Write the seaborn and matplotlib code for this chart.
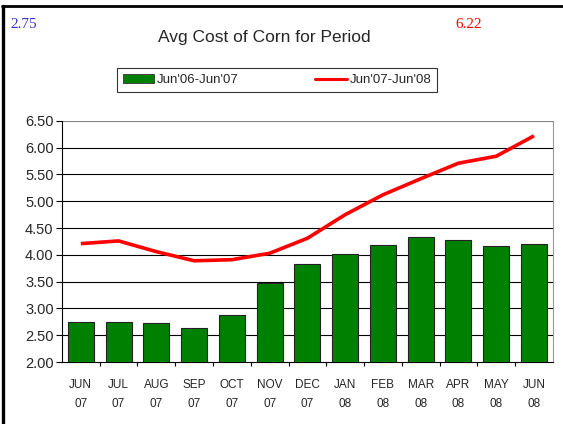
import numpy as np
import pandas as pd
import matplotlib
matplotlib.use("Agg")
import matplotlib.pyplot as plt
import seaborn as sns
from matplotlib.lines import Line2D
from matplotlib.patches import Patch

# ── data ──
months = ["JUN\n07", "JUL\n07", "AUG\n07", "SEP\n07", "OCT\n07", "NOV\n07", "DEC\n07",
          "JAN\n08", "FEB\n08", "MAR\n08", "APR\n08", "MAY\n08", "JUN\n08"]
prev_year = [2.75, 2.74, 2.72, 2.64, 2.87, 3.48, 3.83, 4.01, 4.18, 4.33, 4.27, 4.16, 4.21]
this_year = [4.21, 4.26, 4.06, 3.89, 3.91, 4.03, 4.31, 4.75, 5.12, 5.42, 5.71, 5.84, 6.22]
y_ticks = [2.00, 2.50, 3.00, 3.50, 4.00, 4.50, 5.00, 5.50, 6.00, 6.50]

BAR_COLOR = "#008000"
LINE_COLOR = "#FF0000"

sns.set_theme(style="white")
plt.rcParams["font.family"] = ["Liberation Sans", "DejaVu Sans"]

df = pd.DataFrame({"month": months, "prev": prev_year, "curr": this_year})

fig = plt.figure(figsize=(5.63, 4.24), dpi=100)
ax = fig.add_axes([0.110, 0.146, 0.872, 0.569])

sns.barplot(data=df, x="month", y="prev", color=BAR_COLOR, width=0.69,
            edgecolor="#222222", linewidth=0.8, saturation=1, ax=ax, zorder=3)
x = np.arange(len(months))
ax.plot(x, df["curr"], color=LINE_COLOR, lw=2.6, zorder=4, solid_capstyle="butt")

ax.set_xlim(-0.5, len(months) - 0.5)
ax.set_ylim(2.0, 6.5)
ax.set_yticks(y_ticks)
ax.set_yticklabels([f"{v:.2f}" for v in y_ticks], fontsize=10.5)
ax.set_xticks(x)
ax.set_xticklabels(months, fontsize=8.5, linespacing=1.75)
ax.tick_params(axis="x", length=0, pad=12)
ax.tick_params(axis="y", length=4, width=0.8, color="black", left=True, pad=2)
ax.set_xlabel("")
ax.set_ylabel("")

# grid lines at each 0.50
for v in y_ticks[1:-1]:
    ax.axhline(v, color="black", lw=0.8, zorder=1)
ax.axhline(6.5, color="#808080", lw=0.8, zorder=1)

# small ticks between the categories
ax.set_xticks(np.arange(0.5, len(months) - 0.5, 1), minor=True)
ax.tick_params(axis="x", which="minor", length=3, width=0.8, color="black", bottom=True)

ax.spines["top"].set_visible(False)
ax.spines["right"].set_color("#999999")
ax.spines["right"].set_linewidth(0.8)
ax.spines["left"].set_color("black")
ax.spines["left"].set_linewidth(0.8)
ax.spines["bottom"].set_color("black")
ax.spines["bottom"].set_linewidth(0.8)

fig.text(0.47, 0.912, "Avg Cost of Corn for Period", ha="center", va="center", fontsize=12.5)

handles = [Patch(facecolor=BAR_COLOR, edgecolor="#333333", linewidth=0.6),
           Line2D([0], [0], color=LINE_COLOR, lw=2.2)]
leg = fig.legend(handles, ["Jun'06-Jun'07", "Jun'07-Jun'08"], loc="center",
                 bbox_to_anchor=(0.492, 0.811), ncol=2, fontsize=9.5, frameon=True,
                 fancybox=False, edgecolor="black", columnspacing=5.8,
                 handlelength=2.4, handletextpad=0.2, borderpad=0.45,
                 borderaxespad=0)
leg.get_frame().set_linewidth(0.8)

fig.text(0.018, 0.943, "2.75", color="#3333CC", fontsize=11,
         family="Liberation Serif", ha="left", va="center")
fig.text(0.808, 0.943, "6.22", color="#FF0000", fontsize=11,
         family="Liberation Serif", ha="left", va="center")

# outer frame: left and top edges
fig.add_artist(Line2D([0.0055, 0.0055], [0, 0.986], color="black", lw=2.4,
                      transform=fig.transFigure))
fig.add_artist(Line2D([0.003, 1.0], [0.986, 0.986], color="black", lw=2.0,
                      transform=fig.transFigure))

fig.savefig("out.png", dpi=100)
